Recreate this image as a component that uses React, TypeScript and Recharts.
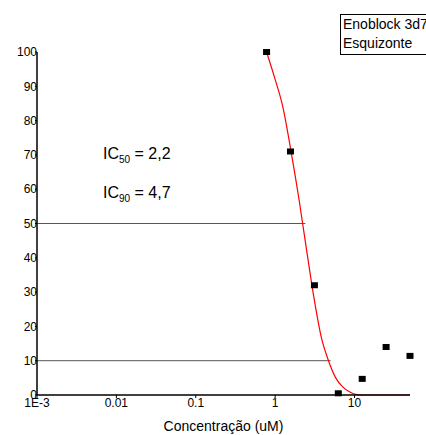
import {
  ComposedChart,
  Line,
  Scatter,
  XAxis,
  YAxis,
} from "recharts";

// measured points (uM, % growth)
const concentrations = [0.78, 1.56, 3.125, 6.25, 12.5, 25, 50];
const growth = [100, 71, 32, 0.5, 4.7, 14, 11.4];

// fitted curve
const fitConc = [0.78, 1.0, 1.25, 1.56, 2.0, 2.5, 3.1, 3.8, 4.7, 5.8, 7, 8.5, 10, 12.5, 20, 50];
const fitValue = [100, 92, 84, 72, 57, 42, 28, 17, 10, 5, 2.5, 1, 0.3, 0, 0, 0];

// IC50 / IC90 guide lines
const ic50Line = [{ x: 0.001, y: 50 }, { x: 2.4, y: 50 }];
const ic90Line = [{ x: 0.001, y: 10 }, { x: 5.0, y: 10 }];

const xTicks = [0.001, 0.01, 0.1, 1, 10];
const xTickLabels = ["1E-3", "0.01", "0.1", "1", "10"];
const yTicks = [0, 10, 20, 30, 40, 50, 60, 70, 80, 90, 100];

const points = concentrations.map((c, i) => ({ x: c, y: growth[i] }));
const fit = fitConc.map((c, i) => ({ x: c, y: fitValue[i] }));

const font = "'Liberation Sans', Arial, sans-serif";

function SquareDot(props: any) {
  const { cx, cy } = props;
  if (cx == null || cy == null) return null;
  return <rect x={cx - 3.5} y={cy - 3} width={7} height={6} fill="#000" />;
}

export default function App() {
  return (
    <div style={{ position: "absolute", left: 0, top: 0, width: 426, height: 435, overflow: "hidden", fontFamily: font, background: "#fff" }}>
      <ComposedChart width={426} height={435} margin={{ top: 52, right: 16, bottom: 0, left: 0 }}>
        <XAxis
          type="number"
          dataKey="x"
          scale="log"
          domain={[0.001, 50]}
          ticks={xTicks}
          tickFormatter={(v: number) => xTickLabels[xTicks.indexOf(v)] ?? String(v)}
          tick={{ fontSize: 12, fill: "#000", fontFamily: font }}
          tickSize={3}
          tickMargin={0}
          axisLine={{ stroke: "#000", strokeWidth: 1.5 }}
          tickLine={{ stroke: "#000" }}
          height={40}
          label={{ value: "Concentração (uM)", position: "insideBottom", offset: 4, fontSize: 14, fill: "#000", fontFamily: font }}
        />
        <YAxis
          type="number"
          dataKey="y"
          domain={[0, 100]}
          ticks={yTicks}
          interval={0}
          tick={{ fontSize: 12, fill: "#000", fontFamily: font, dx: 2 }}
          tickSize={2}
          tickMargin={0}
          axisLine={{ stroke: "#000", strokeWidth: 1.5 }}
          tickLine={{ stroke: "#000" }}
          width={37}
        />
        <Line data={ic50Line} dataKey="y" stroke="#555" strokeWidth={1} dot={false} isAnimationActive={false} />
        <Line data={ic90Line} dataKey="y" stroke="#555" strokeWidth={1} dot={false} isAnimationActive={false} />
        <Line data={fit} dataKey="y" type="monotone" stroke="#ff0000" strokeWidth={1.2} dot={false} isAnimationActive={false} />
        <Scatter data={points} dataKey="y" shape={<SquareDot />} isAnimationActive={false} />
      </ComposedChart>
      <div style={{ position: "absolute", left: 103, top: 145, fontSize: 16, whiteSpace: "nowrap" }}>
        IC<sub style={{ fontSize: 10 }}>50</sub> = 2,2
      </div>
      <div style={{ position: "absolute", left: 103, top: 184, fontSize: 16, whiteSpace: "nowrap" }}>
        IC<sub style={{ fontSize: 10 }}>90</sub> = 4,7
      </div>
      <div
        style={{
          position: "absolute",
          left: 340,
          top: 14,
          width: 100,
          height: 41,
          border: "1px solid #000",
          fontSize: 14,
          lineHeight: "19px",
          paddingLeft: 2,
          boxSizing: "border-box",
          whiteSpace: "nowrap",
          overflow: "hidden",
        }}
      >
        <div>Enoblock 3d7</div>
        <div>Esquizonte</div>
      </div>
    </div>
  );
}
